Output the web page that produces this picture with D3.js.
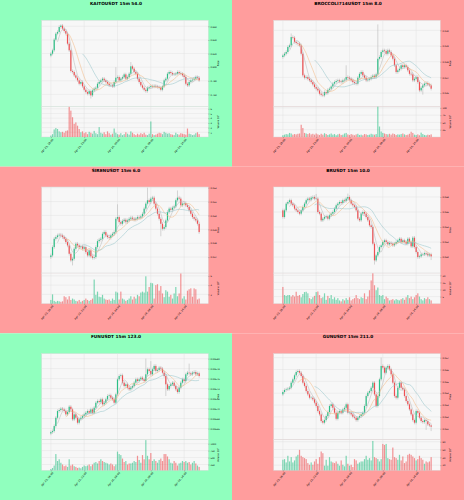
<!DOCTYPE html>
<html lang="en">
<head>
  <meta charset="UTF-8">
  <title>15m candles</title>
  <script src="https://cdnjs.cloudflare.com/ajax/libs/d3/7.8.5/d3.min.js"></script>
  <style>
    body { margin: 0; }
    svg { display: block; font-family: "DejaVu Sans", sans-serif; }
  </style>
</head>
<body>
  <script>
    // ---- data ----
    var xLabels = ["Apr 23, 18:00", "Apr 23, 23:00", "Apr 24, 04:00", "Apr 24, 09:00", "Apr 24, 14:00"];
    var xTickIdx = [0, 20, 40, 60, 80];

    var kaitoClose = [0.8198,0.8247,0.8404,0.8492,0.8517,0.8590,0.8610,0.8566,0.8531,0.8492,
      0.8345,0.8247,0.7943,0.7929,0.7880,0.7845,0.7806,0.7757,0.7782,0.7718,
      0.7669,0.7635,0.7610,0.7649,0.7586,0.7659,0.7684,0.7698,0.7757,0.7782,
      0.7806,0.7831,0.7806,0.7782,0.7757,0.7733,0.7733,0.7718,0.7782,0.7845,
      0.7855,0.7806,0.7831,0.7855,0.7894,0.7831,0.7855,0.7904,0.8012,0.7978,
      0.7929,0.7904,0.7831,0.7782,0.7733,0.7698,0.7669,0.7649,0.7698,0.7708,
      0.7722,0.7714,0.7726,0.7716,0.7708,0.7698,0.7669,0.7718,0.7806,0.7831,
      0.7904,0.7929,0.7914,0.7894,0.7894,0.7904,0.7929,0.7914,0.7904,0.7880,
      0.7855,0.7757,0.7733,0.7782,0.7806,0.7816,0.7831,0.7855,0.7845,0.7806];
    var kaitoVol = [0.3,0.6,1.6,1.9,1.7,1.2,1.0,1.1,0.9,1.3,1.4,6.4,5.6,4.2,2.8,3.1,2.4,1.7,1.0,1.2,0.8,
      1.0,0.6,1.1,0.9,0.7,1.3,0.8,0.6,2.1,0.9,0.7,1.0,0.6,1.2,0.8,0.5,0.7,1.8,
      0.9,0.6,0.5,0.8,0.4,0.6,1.0,0.7,0.5,1.2,0.9,0.6,0.4,0.7,0.5,0.8,0.6,0.9,0.5,0.4,0.7,3.3,
      0.6,0.4,0.5,0.7,0.9,0.8,0.6,1.1,0.9,0.7,0.8,0.6,0.5,0.4,0.9,0.6,0.5,0.8,0.7,0.6,0.5,1.8,
      0.7,0.6,0.4,0.5,0.8,1.0,0.6];

    var broccoliClose = [0.02840,0.02851,0.02862,0.02894,0.02904,0.02957,0.02953,0.02926,0.02919,0.02915,
      0.02904,0.02851,0.02713,0.02698,0.02702,0.02691,0.02681,0.02670,0.02655,0.02638,
      0.02628,0.02617,0.02596,0.02589,0.02585,0.02606,0.02600,0.02621,0.02628,0.02642,
      0.02660,0.02670,0.02677,0.02681,0.02674,0.02670,0.02681,0.02685,0.02702,0.02698,
      0.02691,0.02681,0.02670,0.02664,0.02660,0.02698,0.02723,0.02734,0.02713,0.02698,
      0.02681,0.02685,0.02691,0.02702,0.02711,0.02702,0.02719,0.02819,0.02830,0.02862,
      0.02872,0.02868,0.02851,0.02872,0.02862,0.02840,0.02819,0.02777,0.02734,0.02745,
      0.02755,0.02777,0.02766,0.02777,0.02766,0.02745,0.02723,0.02719,0.02681,0.02691,
      0.02702,0.02670,0.02617,0.02634,0.02649,0.02660,0.02664,0.02655,0.02649,0.02628];
    var broccoliVol = [6,8,10,9,14,12,8,10,9,11,12,
      42,31,14,12,10,13,9,11,8,12,
      9,7,11,8,13,10,7,9,12,8,10,6,9,11,7,8,12,14,9,7,10,8,6,9,11,7,8,6,10,9,7,8,11,9,8,10,
      104,36,19,14,12,10,
      9,11,8,12,10,7,9,8,10,12,9,7,8,11,18,14,8,7,9,6,15,10,7,6,8,7,9];

    var sirenClose = [0.04712,0.04772,0.04832,0.04844,0.04856,0.04861,0.04856,0.04844,0.04832,0.04808,
      0.04784,0.04724,0.04676,0.04688,0.04760,0.04796,0.04784,0.04772,0.04777,0.04760,
      0.04772,0.04736,0.04712,0.04748,0.04705,0.04695,0.04700,0.04772,0.04815,0.04825,
      0.04832,0.04868,0.04880,0.04856,0.04844,0.04839,0.04856,0.04868,0.04880,0.04976,
      0.04988,0.04952,0.04940,0.04960,0.04969,0.04952,0.04964,0.04976,0.04984,0.04976,
      0.04969,0.04976,0.04988,0.04984,0.04993,0.05012,0.05049,0.05085,0.05109,0.05097,
      0.05121,0.05128,0.05085,0.05049,0.05012,0.04976,0.04940,0.04904,0.04916,0.04964,
      0.05025,0.05049,0.05041,0.05056,0.05065,0.05109,0.05128,0.05121,0.05073,0.05085,
      0.05089,0.05073,0.05061,0.05037,0.05012,0.04988,0.04976,0.04964,0.04940,0.04880];
    var sirenVol = [0.8,2.0,0.6,0.4,0.6,0.5,0.4,0.5,1.6,1.4,
      0.9,1.6,0.8,1.1,0.9,0.6,0.5,0.8,0.4,0.6,
      0.8,1.1,0.8,0.6,0.8,1.1,5.2,1.9,2.6,1.5,
      1.4,1.9,1.1,0.9,0.8,0.9,0.6,1.1,0.8,2.6,
      2.4,0.9,2.6,1.1,0.9,0.6,0.8,1.1,1.6,0.9,
      1.5,1.1,1.9,1.6,2.4,2.6,2.4,5.9,2.6,3.6,
      4.5,4.4,1.1,4.0,4.2,2.8,3.8,2.2,1.4,2.9,
      2.6,1.5,1.9,1.1,2.2,3.6,1.6,2.2,6.5,1.1,
      1.6,0.9,2.8,3.1,3.3,1.5,3.3,3.1,0.9,1.1];

    var bruClose = [0.05533,0.05622,0.05711,0.05733,0.05756,0.05711,0.05689,0.05644,0.05622,0.05600,
      0.05578,0.05622,0.05667,0.05711,0.05756,0.05778,0.05764,0.05791,0.05800,0.05778,
      0.05778,0.05600,0.05578,0.05489,0.05511,0.05533,0.05542,0.05511,0.05556,0.05578,
      0.05600,0.05644,0.05689,0.05711,0.05733,0.05720,0.05756,0.05747,0.05778,0.05800,
      0.05756,0.05711,0.05689,0.05667,0.05622,0.05511,0.05489,0.05578,0.05600,0.05578,
      0.05533,0.05489,0.05422,0.05400,0.05178,0.04956,0.05022,0.05067,0.05133,0.05156,
      0.05200,0.05222,0.05200,0.05169,0.05187,0.05178,0.05156,0.05178,0.05200,0.05222,
      0.05244,0.05200,0.05222,0.05200,0.05178,0.05244,0.05200,0.05142,0.05258,0.05133,
      0.05067,0.05000,0.05009,0.05036,0.05036,0.05053,0.05044,0.05022,0.05036,0.05009];
    var bruVol = [11.8,6.1,5.5,6.1,6.1,5.0,6.1,5.0,8.4,5.5,
      6.1,4.5,6.8,8.2,8.4,7.3,3.9,3.2,4.5,5.5,
      8.2,8.6,6.1,3.9,4.5,7.3,2.7,5.5,3.9,6.1,
      3.2,4.5,2.7,3.9,2.3,1.6,3.2,2.3,3.9,2.7,
      4.5,2.3,3.2,3.9,6.1,3.9,3.2,4.5,3.9,7.3,
      3.2,5.0,9.5,16.4,21.4,13.0,9.5,11.4,6.1,5.5,
      6.1,3.2,5.0,3.9,2.3,2.7,3.2,2.3,3.2,2.7,
      2.3,3.2,3.9,2.7,4.5,6.1,3.9,5.0,3.2,4.5,
      6.1,7.3,5.0,3.2,2.3,3.9,3.2,4.5,3.2,2.3];

    var funClose = [0.0056528,0.0056548,0.0056649,0.0056816,0.0056950,0.0056970,0.0056997,0.0056983,0.0056950,0.0056883,
      0.0056930,0.0057037,0.0056983,0.0056783,0.0056883,0.0056816,0.0056716,0.0056783,0.0056816,0.0056849,
      0.0056883,0.0056916,0.0056950,0.0056916,0.0056983,0.0056916,0.0057017,0.0057117,0.0057150,0.0057130,
      0.0057184,0.0057084,0.0057117,0.0057184,0.0057251,0.0057264,0.0057217,0.0057184,0.0057117,0.0057284,
      0.0057585,0.0057652,0.0057666,0.0057518,0.0057452,0.0057485,0.0057418,0.0057385,0.0057418,0.0057452,
      0.0057518,0.0057585,0.0057552,0.0057585,0.0057619,0.0057585,0.0057552,0.0057686,0.0057786,0.0057753,
      0.0057686,0.0057786,0.0057853,0.0057753,0.0057773,0.0057819,0.0057799,0.0057719,0.0057652,0.0057485,
      0.0057385,0.0057452,0.0057485,0.0057518,0.0057452,0.0057385,0.0057331,0.0057418,0.0057518,0.0057585,
      0.0057552,0.0057686,0.0057719,0.0057706,0.0057686,0.0057719,0.0057732,0.0057686,0.0057706,0.0057652];
    var funVol = [88,125,213,625,375,438,313,250,188,213,
      163,438,213,250,188,163,125,138,113,163,
      213,188,213,250,188,250,313,338,288,375,
      438,375,338,313,288,250,288,250,188,250,
      713,625,588,463,338,375,250,288,288,313,
      375,338,563,413,313,588,438,1125,563,438,
      663,375,438,375,313,413,463,375,625,625,
      538,438,313,288,375,313,213,288,313,375,
      338,375,313,338,250,313,375,288,213,163];

    var gunClose = [0.05410,0.05427,0.05432,0.05438,0.05446,0.05489,0.05517,0.05551,0.05579,0.05587,
      0.05573,0.05545,0.05489,0.05461,0.05418,0.05390,0.05362,0.05362,0.05348,0.05320,
      0.05292,0.05249,0.05221,0.05165,0.05151,0.05173,0.05207,0.05241,0.05292,0.05306,
      0.05277,0.05235,0.05184,0.05235,0.05249,0.05235,0.05263,0.05277,0.05306,0.05235,
      0.05235,0.05221,0.05201,0.05193,0.05173,0.05193,0.05207,0.05221,0.05235,0.05292,
      0.05376,0.05404,0.05418,0.05446,0.05489,0.05390,0.05292,0.05376,0.05517,0.05630,
      0.05616,0.05573,0.05616,0.05630,0.05601,0.05559,0.05489,0.05376,0.05362,0.05446,
      0.05489,0.05446,0.05432,0.05376,0.05334,0.05306,0.05263,0.05221,0.05173,0.05151,
      0.05249,0.05235,0.05193,0.05165,0.05156,0.05173,0.05165,0.05137,0.05128,0.05117];
    var gunVol = [33.8,35.4,27.0,43.9,29.5,40.5,27.0,32.1,42.2,46.4,
      59.1,43.9,40.5,38.0,35.4,25.3,21.1,27.0,21.1,29.5,
      35.4,23.6,40.5,54.9,50.6,18.6,33.8,18.6,40.5,29.5,
      27.0,25.3,29.5,23.6,18.6,32.1,21.1,16.9,43.9,23.6,
      18.6,21.1,15.2,35.4,32.1,23.6,27.0,29.5,29.5,35.4,
      43.9,33.8,38.0,32.1,81.9,40.5,38.0,35.4,29.5,35.4,
      74.3,71.7,74.3,38.0,35.4,33.8,65.0,40.5,38.0,33.8,
      46.4,32.1,42.2,25.3,29.5,46.4,49.0,46.4,42.2,38.0,
      32.1,35.4,43.9,38.0,33.8,23.6,29.5,27.0,29.5,40.5];

    // notable wick extremes: [index, high, low]
    var kaitoSpikes = [[6, 0.8630, null], [24, null, 0.7540], [39, 0.8000, null], [48, 0.8075, null]];
    var broccoliSpikes = [[5, 0.02980, null], [38, 0.02777, null], [57, 0.03038, null], [84, null, 0.02590]];
    var sirenSpikes = [[13, null, 0.04640], [40, 0.05080, null], [58, 0.05200, null], [66, null, 0.04850], [76, 0.05180, null]];
    var bruSpikes = [[20, 0.05840, null], [39, 0.05845, null], [55, null, 0.04900], [89, null, 0.04960]];
    var funSpikes = [[57, 0.0058000, null], [60, 0.0057950, null], [69, null, 0.0057250], [83, 0.0057900, null]];
    var gunSpikes = [[59, 0.05700, null], [86, null, 0.05090], [89, null, 0.05080]];

    var panels = [
      { title: "KAITOUSDT 15m 54.0", bg: "#90ffbe", close: kaitoClose, open0: 0.8170, vol: kaitoVol, spikes: kaitoSpikes, wick: 0.0024,
        pDom: [0.7424, 0.8688], pTicks: [0.76, 0.78, 0.80, 0.82, 0.84, 0.86], pFmt: ".3f",
        vDom: [0, 6.5], vTicks: [1, 2, 3, 4, 5, 6], vExp: "5" },
      { title: "BROCCOLI714USDT 15m 8.0", bg: "#ff9d9d", close: broccoliClose, open0: 0.02830, vol: broccoliVol, spikes: broccoliSpikes, wick: 0.00011,
        pDom: [0.02515, 0.03064], pTicks: [0.026, 0.027, 0.028, 0.029, 0.030], pFmt: ".3f",
        vDom: [0, 105], vTicks: [25, 50, 75, 100], vExp: "3" },
      { title: "SIRENUSDT 15m 6.0", bg: "#ff9d9d", close: sirenClose, open0: 0.04700, vol: sirenVol, spikes: sirenSpikes, wick: 0.00013,
        pDom: [0.04585, 0.05205], pTicks: [0.047, 0.048, 0.049, 0.050, 0.051, 0.052], pFmt: ".3f",
        vDom: [0, 6.6], vTicks: [2, 4, 6], vExp: "6" },
      { title: "BRUSDT 15m 10.0", bg: "#ff9d9d", close: bruClose, open0: 0.05622, vol: bruVol, spikes: bruSpikes, wick: 0.00022,
        pDom: [0.04787, 0.05933], pTicks: [0.050, 0.052, 0.054, 0.056, 0.058], pFmt: ".3f",
        vDom: [0, 21.6], vTicks: [5, 10, 15, 20], vExp: "5" },
      { title: "FUNUSDT 15m 123.0", bg: "#90ffbe", close: funClose, open0: 0.0056500, vol: funVol, spikes: funSpikes, wick: 0.0000034,
        pDom: [0.0056375, 0.0058100], pTicks: [0.00566, 0.00568, 0.00570, 0.00572, 0.00574, 0.00576, 0.00578, 0.00580], pFmt: ".5f",
        vDom: [40, 1140], vTicks: [250, 500, 750, 1000], vExp: "5" },
      { title: "GUNUSDT 15m 211.0", bg: "#ff9d9d", close: gunClose, open0: 0.05390, vol: gunVol, spikes: gunSpikes, wick: 0.00014,
        pDom: [0.05007, 0.05734], pTicks: [0.051, 0.052, 0.053, 0.054, 0.055, 0.056, 0.057], pFmt: ".3f",
        vDom: [6.75, 85], vTicks: [20, 40, 60, 80], vExp: "4" }
    ];

    var maDefs = [{ n: 5, color: "#b4b4b4" }, { n: 10, color: "#f3b57c" }, { n: 20, color: "#8fc0c6" }];
    var upColor = "#2cbf86", downColor = "#ef4f52";

    // ---- layout ----
    var W = 464, H = 500, cw = W / 2, ch = H / 3;
    var x0 = 41.7, x1 = 208.3, pTop = 20.3, pBot = 106.4, vTop = 106.4, vBot = 137;

    var svg = d3.select("body").append("svg")
      .attr("width", W)
      .attr("height", H);

    function sma(a, n) {
      return a.map(function(v, i) {
        return i < n - 1 ? null : d3.mean(a.slice(i - n + 1, i + 1));
      });
    }

    panels.forEach(function(p, k) {
      var g = svg.append("g")
        .attr("transform", "translate(" + (k % 2) * cw + "," + Math.floor(k / 2) * ch + ")");

      g.append("rect").attr("width", cw).attr("height", ch).attr("fill", p.bg);

      g.append("text")
        .attr("x", cw / 2).attr("y", 5)
        .attr("text-anchor", "middle")
        .attr("font-size", 4.3).attr("font-weight", "bold")
        .text(p.title);

      // build candles
      var candles = p.close.map(function(c, i) {
        var o = i === 0 ? p.open0 : p.close[i - 1];
        return { i: i, o: o, c: c, h: Math.max(o, c) + p.wick, l: Math.min(o, c) - p.wick, v: p.vol[i] };
      });
      p.spikes.forEach(function(s) {
        if (s[1] != null) candles[s[0]].h = s[1];
        if (s[2] != null) candles[s[0]].l = s[2];
      });

      var x = d3.scaleLinear().domain([-5.5, 94.5]).range([x0, x1]);
      var yP = d3.scaleLinear().domain(p.pDom).range([pBot, pTop]);
      var yV = d3.scaleLinear().domain(p.vDom).range([vBot, vTop]);

      // panel backgrounds
      [[pTop, pBot], [vTop, vBot]].forEach(function(r) {
        g.append("rect")
          .attr("x", x0).attr("y", r[0])
          .attr("width", x1 - x0).attr("height", r[1] - r[0])
          .attr("fill", "#f7f7f7")
          .attr("stroke", "#d8d8d8").attr("stroke-width", 0.4);
      });

      // grid
      var grid = g.append("g").attr("stroke", "#dedede").attr("stroke-width", 0.4);
      grid.selectAll(".gx").data(xTickIdx).enter().append("line")
        .attr("x1", function(d) { return x(d); }).attr("x2", function(d) { return x(d); })
        .attr("y1", pTop).attr("y2", vBot);
      grid.selectAll(".gp").data(p.pTicks).enter().append("line")
        .attr("x1", x0).attr("x2", x1)
        .attr("y1", function(d) { return yP(d); }).attr("y2", function(d) { return yP(d); });
      grid.selectAll(".gv").data(p.vTicks).enter().append("line")
        .attr("x1", x0).attr("x2", x1)
        .attr("y1", function(d) { return yV(d); }).attr("y2", function(d) { return yV(d); });

      // volume bars
      var bw = (x(1) - x(0)) * 0.72;
      g.selectAll(".vol").data(candles).enter().append("rect")
        .attr("x", function(d) { return x(d.i) - bw / 2; })
        .attr("y", function(d) { return yV(d.v); })
        .attr("width", bw)
        .attr("height", function(d) { return vBot - yV(d.v); })
        .attr("fill", function(d) { return d.c >= d.o ? upColor : downColor; })
        .attr("opacity", 0.6);

      // wicks
      g.selectAll(".wick").data(candles).enter().append("line")
        .attr("x1", function(d) { return x(d.i); }).attr("x2", function(d) { return x(d.i); })
        .attr("y1", function(d) { return yP(d.h); }).attr("y2", function(d) { return yP(d.l); })
        .attr("stroke", "#a8a8a8").attr("stroke-width", 0.45);

      // bodies
      g.selectAll(".body").data(candles).enter().append("rect")
        .attr("x", function(d) { return x(d.i) - bw / 2; })
        .attr("y", function(d) { return yP(Math.max(d.o, d.c)); })
        .attr("width", bw)
        .attr("height", function(d) { return Math.max(0.3, Math.abs(yP(d.o) - yP(d.c))); })
        .attr("fill", function(d) { return d.c >= d.o ? upColor : downColor; });

      // moving averages
      maDefs.forEach(function(m) {
        var ma = sma(p.close, m.n);
        var line = d3.line()
          .defined(function(d) { return d != null; })
          .x(function(d, i) { return x(i); })
          .y(function(d) { return yP(d); });
        g.append("path").datum(ma)
          .attr("d", line)
          .attr("fill", "none")
          .attr("stroke", m.color)
          .attr("stroke-width", 0.5);
      });

      // right axes
      var pAxis = g.append("g")
        .attr("transform", "translate(" + x1 + ",0)")
        .call(d3.axisRight(yP).tickValues(p.pTicks).tickFormat(d3.format(p.pFmt)).tickSize(1.2).tickPadding(1));
      var vAxis = g.append("g")
        .attr("transform", "translate(" + x1 + ",0)")
        .call(d3.axisRight(yV).tickValues(p.vTicks).tickFormat(d3.format("d")).tickSize(1.2).tickPadding(1));
      var xAxis = g.append("g")
        .attr("transform", "translate(0," + vBot + ")")
        .call(d3.axisBottom(x).tickValues(xTickIdx).tickFormat(function(d, i) { return xLabels[i]; }).tickSize(1.2).tickPadding(1));

      [pAxis, vAxis, xAxis].forEach(function(a) {
        a.attr("font-size", 2.2).attr("font-family", "DejaVu Sans, sans-serif");
        a.select(".domain").remove();
        a.selectAll(".tick line").attr("stroke", "#444").attr("stroke-width", 0.3);
      });
      xAxis.attr("font-size", 2.6);
      xAxis.selectAll("text")
        .attr("text-anchor", "end")
        .attr("transform", "rotate(-50)")
        .attr("dx", -0.6).attr("dy", 1.2);

      // axis labels
      g.append("text")
        .attr("transform", "translate(218.8," + (pTop + pBot) / 2 + ") rotate(-90)")
        .attr("text-anchor", "middle")
        .attr("font-size", 2.4)
        .text("Price");
      var vl = g.append("text")
        .attr("transform", "translate(218.8," + (vTop + vBot) / 2 + ") rotate(-90)")
        .attr("text-anchor", "middle")
        .attr("font-size", 2.4);
      vl.append("tspan").text("Volume  10");
      vl.append("tspan").attr("dy", -0.9).attr("font-size", 1.7).text(p.vExp);
    });
  </script>
</body>
</html>
